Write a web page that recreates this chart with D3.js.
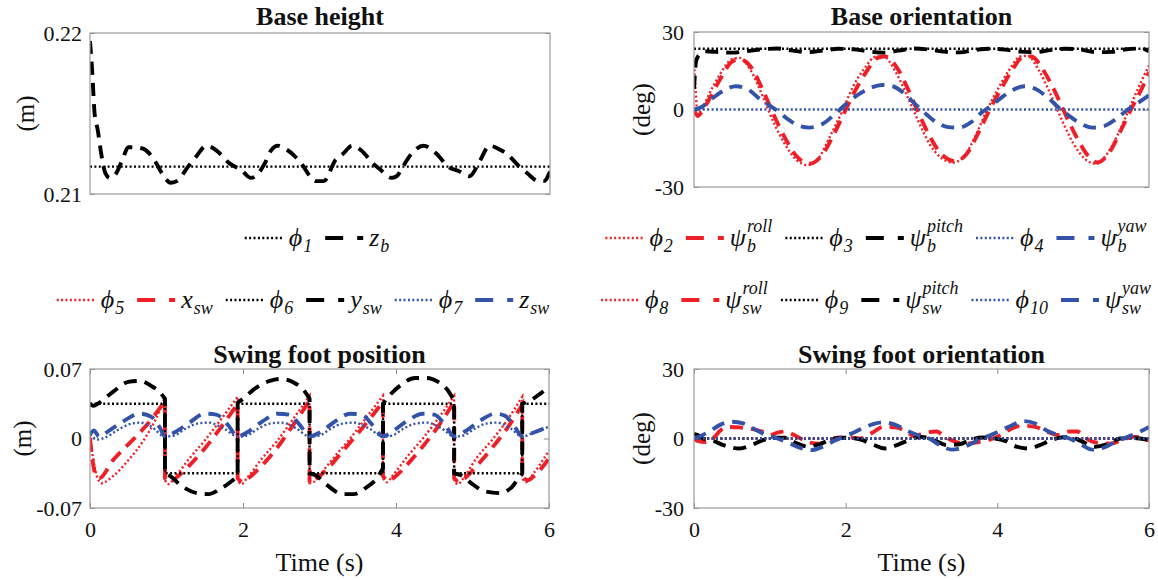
<!DOCTYPE html>
<html>
<head>
<meta charset="utf-8">
<script src="https://cdn.jsdelivr.net/npm/d3@7"></script>
<style>
body{margin:0;background:#fff}
svg{display:block}
text{font-family:"Liberation Serif","Times New Roman","DejaVu Serif",serif}
</style>
</head>
<body>
<svg id="fig" width="1158" height="580"></svg>
<script>
// ---- data (time in s) ----
var timeTicks = [0, 2, 4, 6];

// base height (m)
var phi1 = [[0,0.2117],[6,0.2117]];
var zB = [[0,0.2195],[0.03,0.2175],[0.06,0.2150],[0.1,0.2140],[0.15,0.2124],[0.2,0.2113],[0.26,0.2110],[0.33,0.2112],[0.42,0.2121],[0.5,0.2129],[0.6,0.2129],[0.7,0.2128],[0.84,0.2121],[0.95,0.2112],[1.05,0.2107],[1.13,0.2108],[1.28,0.2117],[1.38,0.2123],[1.52,0.2130],[1.65,0.2127],[1.82,0.2119],[1.97,0.2115],[2.1,0.2110],[2.18,0.2112],[2.28,0.2119],[2.36,0.2127],[2.45,0.2130],[2.55,0.2128],[2.66,0.2124],[2.77,0.2118],[2.87,0.2111],[2.95,0.2108],[3.05,0.2108],[3.2,0.2121],[3.3,0.2125],[3.42,0.2130],[3.54,0.2127],[3.69,0.2119],[3.79,0.2115],[3.93,0.2110],[4.0,0.2111],[4.08,0.2117],[4.23,0.2127],[4.35,0.2130],[4.52,0.2125],[4.67,0.2117],[4.82,0.2114],[4.95,0.2111],[5.09,0.2121],[5.21,0.2130],[5.33,0.2128],[5.46,0.2124],[5.6,0.2117],[5.7,0.2113],[5.85,0.2108],[5.92,0.2108],[6,0.2114]];

// base orientation (deg)
var phi2 = [[0,19],[0.02,8],[0.05,-2],[0.1,0],[0.2,6],[0.35,14],[0.5,19.5],[0.6,20],[0.75,15],[0.9,5.5],[1.05,-5],[1.2,-13.5],[1.35,-19.5],[1.5,-21.5],[1.65,-18.5],[1.8,-10],[1.95,-1],[2.1,9],[2.25,16],[2.4,20.5],[2.5,20.5],[2.65,15],[2.8,6],[2.95,-4],[3.1,-13],[3.25,-18.5],[3.42,-20.5],[3.55,-18.5],[3.7,-11],[3.85,-1],[4.0,7.5],[4.15,15],[4.3,20.5],[4.4,20.8],[4.55,15],[4.7,6],[4.85,-4],[5.0,-13],[5.15,-19],[5.3,-21],[5.45,-17],[5.6,-9],[5.75,1],[5.9,11],[6,17]];
var psiRollB = [[0,0],[0.05,-2.5],[0.1,-1],[0.2,4],[0.35,12],[0.5,18.5],[0.6,19.5],[0.75,16.5],[0.9,8],[1.05,-2],[1.2,-11],[1.35,-18],[1.52,-21],[1.68,-18],[1.82,-11],[1.97,-2],[2.12,7],[2.27,14.5],[2.42,20],[2.52,20.5],[2.68,16],[2.82,8],[2.97,-2],[3.12,-11],[3.27,-17.5],[3.45,-20],[3.6,-17],[3.75,-9],[3.9,0],[4.05,8],[4.2,15.5],[4.35,20.5],[4.45,20.5],[4.6,15.5],[4.75,7.5],[4.9,-2],[5.05,-11],[5.2,-18],[5.32,-20.5],[5.48,-16.5],[5.63,-8],[5.78,1],[5.92,9],[6,14.5]];
var phi3 = [[0,23.5],[6,23.5]];
var psiPitchB = [[0,8],[0.03,19],[0.08,21.5],[0.15,22.5],[0.3,22.3],[0.5,22],[0.7,22.6],[0.9,23.3],[1.1,23.6],[1.3,22.8],[1.5,22.2],[1.7,22.8],[1.9,23.5],[2.1,23.3],[2.3,22.5],[2.5,22],[2.7,22.8],[2.9,23.6],[3.1,23.2],[3.3,22.4],[3.5,22.1],[3.7,23],[3.9,23.5],[4.1,23.2],[4.3,22.4],[4.5,22.2],[4.7,23],[4.9,23.5],[5.1,23.2],[5.3,22.2],[5.5,22.3],[5.7,23.3],[5.9,23.6],[6,22.5]];
var phi4 = [[0,0],[6,0]];
var psiYawB = [[0,0],[0.1,1],[0.25,4.5],[0.4,7.5],[0.55,9],[0.7,8],[0.85,4.5],[1.0,1.5],[1.1,-0.5],[1.25,-4],[1.4,-6.5],[1.52,-7],[1.7,-5.5],[1.85,-2],[2.0,2],[2.15,5.5],[2.3,8],[2.48,9.5],[2.62,9],[2.78,6],[2.92,2],[3.05,-1.5],[3.2,-5],[3.35,-6.8],[3.5,-7],[3.65,-5],[3.8,-1],[3.9,1],[4.05,4.5],[4.2,7.5],[4.36,9],[4.5,8],[4.65,5],[4.8,1],[4.95,-2.5],[5.1,-5.5],[5.25,-7],[5.4,-6.5],[5.55,-4],[5.72,0],[5.85,2.5],[6,5.5]];

// swing foot position (m); equal consecutive times mark a jump
var phi5 = [[0,0.002],[0.04,-0.02],[0.09,-0.038],[0.15,-0.045],[0.3,-0.038],[0.5,-0.022],[0.7,-0.002],[0.85,0.018],[0.98,0.042],[0.98,-0.042],[1.03,-0.046],[1.1,-0.04],[1.3,-0.02],[1.5,-0.002],[1.7,0.018],[1.93,0.042],[1.93,-0.042],[1.98,-0.046],[2.05,-0.04],[2.25,-0.02],[2.45,-0.002],[2.65,0.019],[2.87,0.043],[2.87,-0.045],[2.92,-0.044],[3.0,-0.037],[3.2,-0.018],[3.4,0.0],[3.6,0.02],[3.83,0.043],[3.83,-0.04],[3.88,-0.044],[3.95,-0.038],[4.15,-0.018],[4.35,0.0],[4.55,0.02],[4.76,0.043],[4.76,-0.042],[4.81,-0.046],[4.88,-0.04],[5.05,-0.02],[5.25,-0.002],[5.45,0.018],[5.65,0.042],[5.65,-0.04],[5.7,-0.044],[5.78,-0.037],[6,-0.012]];
var xSw = [[0,0],[0.03,-0.02],[0.07,-0.036],[0.12,-0.04],[0.3,-0.022],[0.5,-0.006],[0.7,0.01],[0.85,0.024],[0.98,0.038],[0.98,-0.04],[1.05,-0.044],[1.12,-0.04],[1.3,-0.027],[1.5,-0.01],[1.7,0.01],[1.93,0.035],[1.93,-0.04],[2.0,-0.044],[2.07,-0.04],[2.25,-0.027],[2.45,-0.009],[2.65,0.013],[2.87,0.038],[2.87,-0.045],[2.93,-0.042],[3.1,-0.031],[3.3,-0.013],[3.5,0.005],[3.7,0.024],[3.83,0.037],[3.83,-0.038],[3.9,-0.043],[3.98,-0.039],[4.15,-0.026],[4.35,-0.008],[4.55,0.012],[4.76,0.037],[4.76,-0.04],[4.83,-0.044],[4.9,-0.04],[5.05,-0.028],[5.25,-0.01],[5.45,0.01],[5.65,0.034],[5.65,-0.038],[5.72,-0.042],[5.8,-0.038],[6,-0.02]];
var phi6 = [[0,0.035],[0.98,0.035],[0.98,-0.035],[1.93,-0.035],[1.93,0.035],[2.87,0.035],[2.87,-0.035],[3.83,-0.035],[3.83,0.035],[4.76,0.035],[4.76,-0.035],[5.65,-0.035],[5.65,0.035],[6,0.035]];
var ySw = [[0,0.035],[0.05,0.033],[0.1,0.035],[0.3,0.047],[0.5,0.057],[0.65,0.058],[0.8,0.053],[0.92,0.046],[0.98,0.04],[0.98,-0.035],[1.05,-0.038],[1.2,-0.048],[1.4,-0.055],[1.55,-0.056],[1.7,-0.051],[1.85,-0.043],[1.93,-0.038],[1.93,0.036],[2.0,0.04],[2.15,0.05],[2.35,0.058],[2.5,0.06],[2.65,0.057],[2.8,0.048],[2.87,0.04],[2.87,-0.035],[2.95,-0.037],[3.1,-0.047],[3.3,-0.056],[3.45,-0.056],[3.6,-0.05],[3.75,-0.04],[3.83,-0.03],[3.83,0.035],[3.9,0.042],[4.05,0.053],[4.25,0.061],[4.4,0.061],[4.55,0.057],[4.7,0.046],[4.76,0.038],[4.76,-0.035],[4.85,-0.037],[5.0,-0.046],[5.15,-0.053],[5.35,-0.055],[5.5,-0.05],[5.6,-0.04],[5.65,-0.035],[5.65,0.035],[5.75,0.038],[5.9,0.046],[6,0.052]];
var phi7 = [[0,0.004],[0.1,-0.001],[0.2,0.001],[0.35,0.008],[0.5,0.014],[0.65,0.016],[0.8,0.012],[0.98,0.002],[1.1,0.003],[1.25,0.01],[1.4,0.015],[1.55,0.016],[1.75,0.01],[1.93,0.002],[2.05,0.003],[2.2,0.01],[2.35,0.015],[2.5,0.016],[2.7,0.01],[2.87,0.002],[3.0,0.003],[3.15,0.01],[3.3,0.015],[3.45,0.016],[3.65,0.01],[3.83,0.002],[3.95,0.003],[4.1,0.01],[4.25,0.015],[4.4,0.016],[4.6,0.01],[4.76,0.002],[4.88,0.003],[5.03,0.01],[5.18,0.015],[5.32,0.016],[5.5,0.01],[5.65,0.002],[5.8,0.006],[6,0.012]];
var zSw = [[0,0.004],[0.05,0.008],[0.12,0.002],[0.25,0.008],[0.45,0.018],[0.65,0.025],[0.8,0.022],[0.92,0.01],[0.98,0.002],[1.1,0.006],[1.3,0.016],[1.5,0.025],[1.65,0.024],[1.8,0.014],[1.93,0.002],[2.05,0.006],[2.25,0.017],[2.45,0.025],[2.6,0.024],[2.75,0.013],[2.87,0.002],[3.0,0.006],[3.2,0.017],[3.4,0.025],[3.55,0.024],[3.7,0.013],[3.83,0.002],[3.95,0.007],[4.15,0.018],[4.35,0.025],[4.5,0.024],[4.65,0.013],[4.76,0.002],[4.9,0.007],[5.1,0.018],[5.3,0.025],[5.42,0.023],[5.55,0.012],[5.65,0.002],[5.8,0.006],[6,0.012]];

// swing foot orientation (deg)
var phi8 = [[0,0],[6,0]];
var psiRollSw = [[0,0],[0.05,-1],[0.15,-1.5],[0.25,0],[0.35,3.5],[0.45,5],[0.6,4.8],[0.75,4.2],[0.9,3],[1.0,1.5],[1.1,2.5],[1.2,3],[1.35,1],[1.5,-1.5],[1.65,-2.2],[1.8,-1],[1.9,0.5],[2.05,0.5],[2.2,0],[2.35,2.5],[2.5,5],[2.65,4.8],[2.8,3],[2.9,1],[3.05,2.5],[3.2,3],[3.3,1],[3.45,-1.5],[3.6,-2.2],[3.75,-1.5],[3.9,-0.5],[4.05,1.5],[4.2,4.5],[4.35,5.5],[4.5,5],[4.65,3],[4.8,1.5],[4.95,3],[5.05,3],[5.2,-0.5],[5.35,-2],[5.5,-2.2],[5.65,-0.5],[5.8,0.7],[5.9,0.3],[6,-1]];
var phi9 = [[0,0],[6,0]];
var psiPitchSw = [[0,2],[0.05,1.5],[0.12,0],[0.25,-1],[0.4,-3],[0.6,-4.3],[0.75,-3],[0.9,-0.8],[1.05,0.3],[1.2,0.3],[1.35,-2],[1.5,-3.5],[1.65,-2.5],[1.85,0],[2.0,0.3],[2.2,-0.5],[2.35,-2.5],[2.52,-4.3],[2.7,-2.5],[2.85,-0.5],[3.0,0.7],[3.15,-0.5],[3.33,-2.8],[3.5,-2.5],[3.65,-0.5],[3.8,0.4],[3.95,0],[4.1,-1],[4.25,-3.5],[4.4,-4.3],[4.55,-3],[4.7,-0.8],[4.85,0.5],[4.95,0.7],[5.1,-1],[5.28,-3.6],[5.45,-2.5],[5.62,0],[5.8,0.2],[6,-0.7]];
var phi10 = [[0,0],[6,0]];
var psiYawSw = [[0,0],[0.08,1],[0.2,3],[0.35,6],[0.5,7.2],[0.65,6.5],[0.8,4],[0.95,1.5],[1.1,0],[1.25,-2],[1.4,-4],[1.55,-5],[1.7,-3.5],[1.85,-1],[1.95,0.5],[2.1,2.5],[2.3,5.5],[2.5,7],[2.65,6],[2.8,3.5],[2.95,1.5],[3.1,0],[3.25,-3],[3.4,-4.8],[3.55,-3.8],[3.7,-1.5],[3.8,0],[3.95,2],[4.15,5],[4.35,7.5],[4.5,6.5],[4.65,3.5],[4.8,1.5],[4.95,0],[5.1,-2.5],[5.25,-4.8],[5.4,-4],[5.55,-1.5],[5.7,0.5],[5.85,2.5],[6,5]];

var RED = "#ee1f26", BLACK = "#000000", BLUE = "#3353a8";

var svg = d3.select("#fig");

// build a path, drawing vertical jumps where a time value repeats
function jumpPath(data, x, y) {
    var segs = [[]];
    data.forEach(function (d, i) {
        if (i > 0 && d[0] === data[i - 1][0]) segs.push([]);
        segs[segs.length - 1].push(d);
    });
    var line = d3.line().x(function (d) { return x(d[0]); }).y(function (d) { return y(d[1]); })
        .curve(d3.curveMonotoneX);
    return segs.map(function (s, i) {
        var p = s.length > 1 ? line(s) : "M" + x(s[0][0]) + "," + y(s[0][1]);
        return i === 0 ? p : "L" + p.slice(1);
    }).join("");
}

function styleLine(sel, color, kind) {
    sel.attr("fill", "none").attr("stroke", color);
    if (kind === "dash") {
        sel.attr("stroke-width", 3.9).attr("stroke-dasharray", "13,8");
    } else {
        sel.attr("stroke-width", 2.4).attr("stroke-dasharray", "2,2.4");
    }
    return sel;
}

function drawPanel(p, idx) {
    var x = d3.scaleLinear().domain([0, 6]).range([p.x0, p.x1]);
    var y = d3.scaleLinear().domain(p.yDomain).range([p.y1, p.y0]);

    svg.append("clipPath").attr("id", "clip" + idx)
        .append("rect").attr("x", p.x0).attr("y", p.y0)
        .attr("width", p.x1 - p.x0).attr("height", p.y1 - p.y0);

    var fmt = function (d) { return d === 0 ? "0" : (p.dec ? d.toFixed(p.dec) : String(d)); };

    // y axis left + right (inward ticks)
    var yl = svg.append("g").attr("transform", "translate(" + p.x0 + ",0)")
        .call(d3.axisLeft(y).tickValues(p.yTicks).tickFormat(fmt).tickSizeInner(-5).tickSizeOuter(0).tickPadding(p.pad));
    var yr = svg.append("g").attr("transform", "translate(" + p.x1 + ",0)")
        .call(d3.axisRight(y).tickValues(p.yTicks).tickFormat("").tickSizeInner(-5).tickSizeOuter(0));
    [yl, yr].forEach(function (g) {
        g.select(".domain").remove();
        g.selectAll("line").attr("stroke", "#8c8c8c");
        g.selectAll("text").attr("font-size", 22).attr("fill", "#111");
    });

    if (p.xTicks) {
        var xb = svg.append("g").attr("transform", "translate(0," + p.y1 + ")")
            .call(d3.axisBottom(x).tickValues(timeTicks).tickFormat(d3.format("d"))
                .tickSizeInner(-5).tickSizeOuter(0).tickPadding(13));
        var xt = svg.append("g").attr("transform", "translate(0," + p.y0 + ")")
            .call(d3.axisTop(x).tickValues(timeTicks).tickFormat("").tickSizeInner(-5).tickSizeOuter(0));
        [xb, xt].forEach(function (g) {
            g.select(".domain").remove();
            g.selectAll("line").attr("stroke", "#8c8c8c");
            g.selectAll("text").attr("font-size", 22).attr("fill", "#111");
        });
        svg.append("text").attr("x", (p.x0 + p.x1) / 2).attr("y", 571)
            .attr("text-anchor", "middle").attr("font-size", 26).attr("fill", "#111")
            .text("Time (s)");
    }

    // series
    var g = svg.append("g").attr("clip-path", "url(#clip" + idx + ")");
    p.series.forEach(function (s) {
        styleLine(g.append("path").attr("d", jumpPath(s.data, x, y)), s.color, s.kind);
    });

    // box
    svg.append("rect").attr("x", p.x0).attr("y", p.y0)
        .attr("width", p.x1 - p.x0).attr("height", p.y1 - p.y0)
        .attr("fill", "none").attr("stroke", "#9a9a9a").attr("stroke-width", 1.2);

    // title
    svg.append("text").attr("x", (p.x0 + p.x1) / 2).attr("y", p.titleY)
        .attr("text-anchor", "middle").attr("font-size", 26).attr("font-weight", "bold")
        .attr("fill", "#111").text(p.title);

    // y label
    var cy = (p.y0 + p.y1) / 2;
    svg.append("text").attr("transform", "translate(" + p.labelX + "," + cy + ") rotate(-90)")
        .attr("text-anchor", "middle").attr("dominant-baseline", "central")
        .attr("font-size", 25).attr("fill", "#111").text(p.ylabel);
}

function drawLegend(items, cx, cy) {
    var g = svg.append("g");
    var cur = 0;
    items.forEach(function (it) {
        styleLine(g.append("line").attr("x1", cur).attr("x2", cur + 38).attr("y1", cy).attr("y2", cy),
            it.color, it.kind)
            .attr("stroke-dasharray", it.kind === "dash" ? "18,14" : "2,2.4");
        cur += 38 + 6;
        var base = cy + 8;
        var m = g.append("text").attr("x", cur).attr("y", base)
            .attr("font-size", 26).attr("font-style", "italic").attr("fill", "#111").text(it.main);
        cur += m.node().getComputedTextLength() + 1;
        var w = 0;
        if (it.sup) {
            var t1 = g.append("text").attr("x", cur).attr("y", base - 14)
                .attr("font-size", 18).attr("font-style", "italic").attr("fill", "#111").text(it.sup);
            w = Math.max(w, t1.node().getComputedTextLength());
        }
        if (it.sub) {
            var t2 = g.append("text").attr("x", cur).attr("y", base + 6)
                .attr("font-size", 18).attr("font-style", "italic").attr("fill", "#111").text(it.sub);
            w = Math.max(w, t2.node().getComputedTextLength());
        }
        cur += w + 13;
    });
    var total = cur - 13;
    g.attr("transform", "translate(" + (cx - total / 2) + ",0)");
}

var panels = [
    { x0: 90, x1: 550, y0: 33, y1: 194, yDomain: [0.21, 0.22], yTicks: [0.21, 0.22], dec: 2, pad: 8,
      title: "Base height", titleY: 25, ylabel: "(m)", labelX: 25, xTicks: false,
      series: [{ data: phi1, color: BLACK, kind: "dot" }, { data: zB, color: BLACK, kind: "dash" }] },
    { x0: 694, x1: 1149, y0: 32, y1: 187, yDomain: [-30, 30], yTicks: [-30, 0, 30], dec: 0, pad: 10,
      title: "Base orientation", titleY: 25, ylabel: "(deg)", labelX: 641, xTicks: false,
      series: [{ data: phi2, color: RED, kind: "dot" }, { data: psiRollB, color: RED, kind: "dash" },
               { data: phi3, color: BLACK, kind: "dot" }, { data: psiPitchB, color: BLACK, kind: "dash" },
               { data: phi4, color: BLUE, kind: "dot" }, { data: psiYawB, color: BLUE, kind: "dash" }] },
    { x0: 90, x1: 549, y0: 369, y1: 508, yDomain: [-0.07, 0.07], yTicks: [-0.07, 0, 0.07], dec: 2, pad: 8,
      title: "Swing foot position", titleY: 363, ylabel: "(m)", labelX: 22, xTicks: true,
      series: [{ data: phi5, color: RED, kind: "dot" }, { data: xSw, color: RED, kind: "dash" },
               { data: phi6, color: BLACK, kind: "dot" }, { data: ySw, color: BLACK, kind: "dash" },
               { data: phi7, color: BLUE, kind: "dot" }, { data: zSw, color: BLUE, kind: "dash" }] },
    { x0: 694, x1: 1149, y0: 369, y1: 508, yDomain: [-30, 30], yTicks: [-30, 0, 30], dec: 0, pad: 10,
      title: "Swing foot orientation", titleY: 363, ylabel: "(deg)", labelX: 641, xTicks: true,
      series: [{ data: phi8, color: RED, kind: "dot" }, { data: psiRollSw, color: RED, kind: "dash" },
               { data: phi9, color: BLACK, kind: "dot" }, { data: psiPitchSw, color: BLACK, kind: "dash" },
               { data: phi10, color: BLUE, kind: "dot" }, { data: psiYawSw, color: BLUE, kind: "dash" }] }
];
panels.forEach(drawPanel);

var PHI = "\u03D5", PSI = "\u03C8";
drawLegend([
    { color: BLACK, kind: "dot", main: PHI, sub: "1" },
    { color: BLACK, kind: "dash", main: "z", sub: "b" }
], 317, 238);
drawLegend([
    { color: RED, kind: "dot", main: PHI, sub: "2" },
    { color: RED, kind: "dash", main: PSI, sup: "roll", sub: "b" },
    { color: BLACK, kind: "dot", main: PHI, sub: "3" },
    { color: BLACK, kind: "dash", main: PSI, sup: "pitch", sub: "b" },
    { color: BLUE, kind: "dot", main: PHI, sub: "4" },
    { color: BLUE, kind: "dash", main: PSI, sup: "yaw", sub: "b" }
], 876, 238);
drawLegend([
    { color: RED, kind: "dot", main: PHI, sub: "5" },
    { color: RED, kind: "dash", main: "x", sub: "sw" },
    { color: BLACK, kind: "dot", main: PHI, sub: "6" },
    { color: BLACK, kind: "dash", main: "y", sub: "sw" },
    { color: BLUE, kind: "dot", main: PHI, sub: "7" },
    { color: BLUE, kind: "dash", main: "z", sub: "sw" }
], 303, 300);
drawLegend([
    { color: RED, kind: "dot", main: PHI, sub: "8" },
    { color: RED, kind: "dash", main: PSI, sup: "roll", sub: "sw" },
    { color: BLACK, kind: "dot", main: PHI, sub: "9" },
    { color: BLACK, kind: "dash", main: PSI, sup: "pitch", sub: "sw" },
    { color: BLUE, kind: "dot", main: PHI, sub: "10" },
    { color: BLUE, kind: "dash", main: PSI, sup: "yaw", sub: "sw" }
], 876, 300);
</script>
</body>
</html>
